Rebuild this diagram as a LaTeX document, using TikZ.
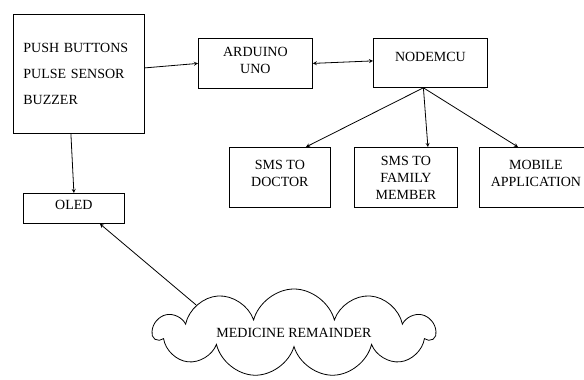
\documentclass[tikz,border=0pt]{standalone}
\usepackage{fontspec}
\setmainfont{Liberation Serif}
\usetikzlibrary{shapes.symbols}
\begin{document}
\begin{tikzpicture}[>=stealth,x=1pt,y=-1pt,line width=0.8pt,
	blk/.style={draw,anchor=north west,align=center,inner sep=3pt,font=\fontsize{14}{17}\selectfont}]
	\clip (0,0) rectangle (584,380);
	% inputs and controllers
	\node[blk,align=left,minimum width=131pt,minimum height=119pt,text width=111pt] (inp) at (13,14) {PUSH BUTTONS\\[9pt]PULSE SENSOR\\[9pt]BUZZER};
	\node[blk,minimum width=114pt,minimum height=50pt,text depth=7pt] (ard) at (198,38) {ARDUINO\\UNO};
	\node[blk,minimum width=114pt,minimum height=49pt,text depth=13pt] (nmcu) at (373,38) {NODEMCU};
	% outputs
	\node[blk,minimum width=101pt,minimum height=60pt,text depth=8pt] (doc) at (229,147) {SMS TO\\DOCTOR};
	\node[blk,minimum width=103pt,minimum height=60pt] (fam) at (354,147) {SMS TO\\FAMILY\\MEMBER};
	\node[blk,minimum width=113pt,minimum height=60pt,text depth=8pt] (mob) at (479,147) {MOBILE\\APPLICATION};
	\node[blk,minimum width=101pt,minimum height=30pt,text depth=8pt] (oled) at (23,193) {OLED};
	\node[draw,cloud,cloud puffs=11,cloud ignores aspect,minimum width=281pt,minimum height=88pt,font=\fontsize{14}{17}\selectfont] (rem) at (294,333) {MEDICINE REMAINDER};
	% links
	\coordinate (hub) at ([xshift=-7pt]nmcu.south);
	\draw[->] ([yshift=6pt]inp.east) -- (ard.west);
	\draw[<->] (ard.east) -- ([yshift=2pt]nmcu.west);
	\draw[->] (hub) -- ([xshift=26pt]doc.north);
	\draw[->] (hub) -- ([xshift=22pt]fam.north);
	\draw[->] (hub) -- ([xshift=39pt]mob.north west);
	\draw[->] ([xshift=-8pt]inp.south) -- (oled.north);
	\draw[->] (rem.164) -- ([xshift=26pt]oled.south);
\end{tikzpicture}
\end{document}
